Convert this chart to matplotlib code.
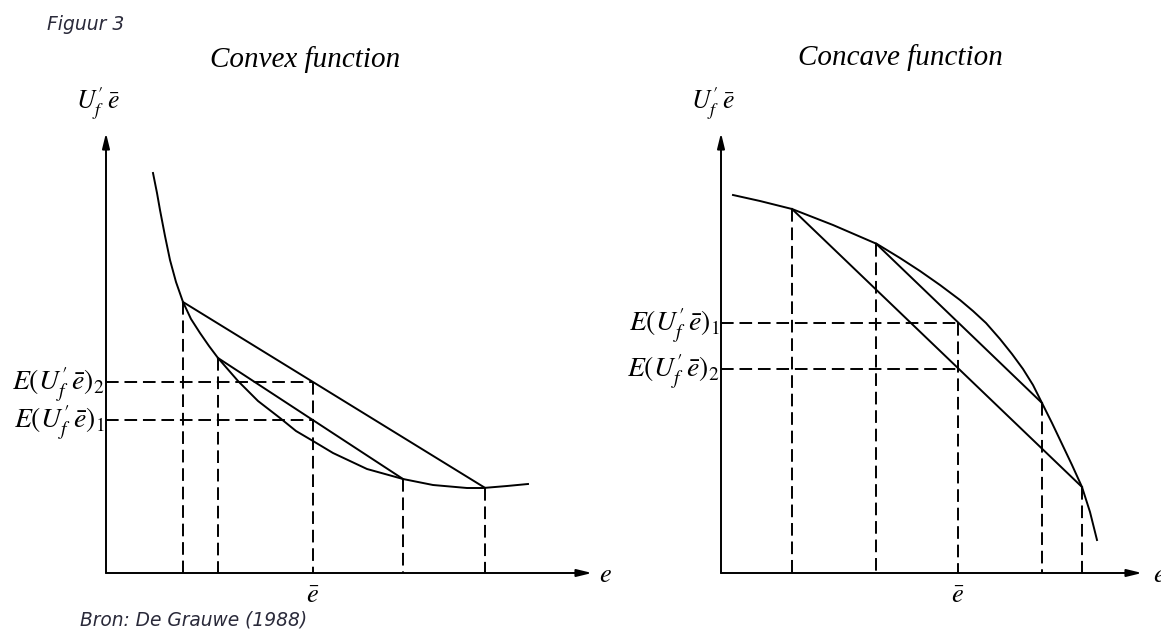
import matplotlib.pyplot as plt

plt.rcParams['mathtext.fontset'] = 'stix'

# curve samples (pixel space, y pointing down)
convex_x = [153, 157, 160, 165, 170, 176, 183, 191, 200, 209, 218, 238, 258, 280, 296, 313,
            333, 367, 403, 433, 467, 483, 507, 528]
convex_y = [173, 193, 210, 236, 260, 282, 302, 319, 333, 346, 358, 381, 401, 418, 431, 441,
            453, 469, 479, 485, 488, 488, 486, 484]
convex_marks = [183, 218, 313, 403, 485]          # dashed verticals
convex_chords = [(183, 485), (218, 403)]          # chord end points (x)
convex_levels = [382, 420]                        # E(.)_2, E(.)_1
convex_level_labels = [r"$E(U_f'\,\bar{e})_2$", r"$E(U_f'\,\bar{e})_1$"]

concave_x = [733, 760, 792, 833, 877, 900, 920, 940, 960, 973, 986, 1000, 1012, 1023, 1033,
             1042, 1052, 1062, 1072, 1082, 1090, 1097]
concave_y = [195, 201, 209, 225, 244, 258, 271, 285, 300, 311, 323, 339, 354, 369, 385,
             403, 423, 444, 465, 487, 512, 540]
concave_marks = [792, 876, 958, 1042, 1082]
concave_chords = [(792, 1082), (876, 1042)]
concave_levels = [323, 369]
concave_level_labels = [r"$E(U_f'\,\bar{e})_1$", r"$E(U_f'\,\bar{e})_2$"]

base_y = 573
W, H = 1161, 630

fig = plt.figure(figsize=(W / 100, H / 100), dpi=100)
ax = fig.add_axes([0, 0, 1, 1])
ax.set_xlim(0, W)
ax.set_ylim(H, 0)
ax.axis('off')

lw = 1.4
dash = (0, (6.5, 3))


def curve_y(xs, ys, x):
    for i in range(len(xs) - 1):
        if xs[i] <= x <= xs[i + 1]:
            t = (x - xs[i]) / (xs[i + 1] - xs[i])
            return ys[i] + t * (ys[i + 1] - ys[i])
    return ys[-1]


def panel(xs, ys, marks, chords, levels, labels, x0, x_end, mean_x):
    arrow = dict(arrowstyle='-|>,head_length=0.9,head_width=0.22',
                 color='black', lw=lw, shrinkA=0, shrinkB=0)
    ax.annotate('', xy=(x0, 133), xytext=(x0, base_y), arrowprops=arrow)
    ax.annotate('', xy=(x_end, base_y), xytext=(x0, base_y), arrowprops=arrow)
    ax.plot(xs, ys, color='black', lw=lw, solid_joinstyle='round')
    for x in marks:
        top = min(levels) if x == mean_x else curve_y(xs, ys, x)
        ax.plot([x, x], [top, base_y], color='black', lw=lw, ls=dash)
    for a, b in chords:
        ax.plot([a, b], [curve_y(xs, ys, a), curve_y(xs, ys, b)], color='black', lw=lw)
    for lev, lab in zip(levels, labels):
        ax.plot([x0, mean_x], [lev, lev], color='black', lw=lw, ls=dash)
        ax.text(x0 - 1, lev + 2, lab, fontsize=20, ha='right', va='center')
    ax.text(mean_x, 596, r"$\bar{e}$", fontsize=19, ha='center', va='center')
    ax.text(x0 - 30, 104, r"$U_f'\,\bar{e}$", fontsize=18.5, ha='left', va='center')


panel(convex_x, convex_y, convex_marks, convex_chords, convex_levels,
      convex_level_labels, 106, 592, 313)
panel(concave_x, concave_y, concave_marks, concave_chords, concave_levels,
      concave_level_labels, 721, 1142, 958)

ax.text(605, 575, r"$e$", fontsize=19, ha='center', va='center')
ax.text(1153, 575, r"$e$", fontsize=19, ha='left', va='center')

ax.text(305, 60, "Convex function", fontsize=21, style='italic',
        family='Liberation Serif', ha='center', va='center')
ax.text(900, 58, "Concave function", fontsize=21, style='italic',
        family='Liberation Serif', ha='center', va='center')

ax.text(47, 24, "Figuur 3", fontsize=13.5, style='italic', color='#2a2a3a',
        ha='left', va='center')
ax.text(80, 620, "Bron: De Grauwe (1988)", fontsize=13.4, style='italic',
        color='#2a2a3a', ha='left', va='center')

fig.savefig('out.png', dpi=100)
